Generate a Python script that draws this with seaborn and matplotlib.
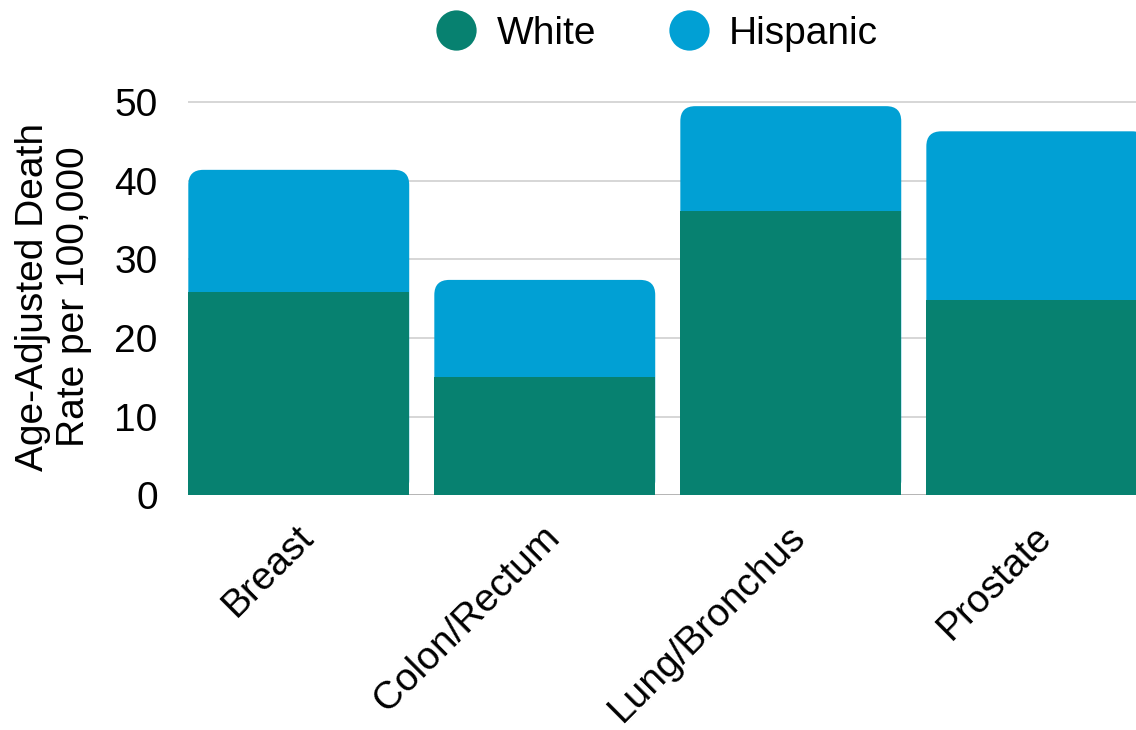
import matplotlib
matplotlib.use("Agg")
import matplotlib.pyplot as plt
from matplotlib.patches import FancyBboxPatch
from matplotlib.lines import Line2D
from matplotlib.transforms import ScaledTranslation
import seaborn as sns
import pandas as pd

# Cancer death rates by site
sites = ["Breast", "Colon/Rectum", "Lung/Bronchus", "Prostate"]
white_rate = [25.8, 15.0, 36.2, 24.8]
hispanic_rate = [15.6, 12.4, 13.3, 21.5]
series_names = ["White", "Hispanic"]
y_ticks = [0, 10, 20, 30, 40, 50]

WHITE_C = "#078170"
HISP_C = "#01a0d4"

sns.set_theme(style="white")
plt.rcParams["font.family"] = ["Liberation Sans", "DejaVu Sans"]
plt.rcParams["text.color"] = "black"

df = pd.DataFrame({"site": sites, "white": white_rate, "hispanic": hispanic_rate})
df["total"] = df["white"] + df["hispanic"]

W, H = 1136, 730
fig = plt.figure(figsize=(W / 100, H / 100), dpi=100)
ax = fig.add_axes([188.3 / W, (H - 495.3) / H, (W - 188.3) / W, 397 / H])

bar_w = 0.898
sns.barplot(data=df, x="site", y="total", color=HISP_C, saturation=1,
            width=bar_w, ax=ax, zorder=2)
n_top = len(ax.patches)
sns.barplot(data=df, x="site", y="white", color=WHITE_C, saturation=1,
            width=bar_w, ax=ax, zorder=4)

ax.set_xlim(-bar_w / 2, (W - 298.8) / 246)
ax.set_ylim(0, 50.5)
fig.canvas.draw()

# round the top corners of the stacked bars (radius in pixels)
radius_px = 15
p0 = ax.transData.transform((0, 0))
p1 = ax.transData.transform((1, 1))
x_per_px = 1 / (p1[0] - p0[0])
y_per_px = 1 / (p1[1] - p0[1])
aspect = y_per_px / x_per_px
for patch in ax.patches[:n_top]:
    patch.set_visible(False)
    rounded = FancyBboxPatch(
        (patch.get_x(), patch.get_y()), patch.get_width(), patch.get_height(),
        boxstyle=f"round,pad=0,rounding_size={radius_px * x_per_px}",
        mutation_aspect=aspect, facecolor=HISP_C, edgecolor="none",
        zorder=3, clip_on=True)
    ax.add_patch(rounded)
for patch in ax.patches[n_top:2 * n_top]:
    patch.set_edgecolor("none")

ax.set_yticks(y_ticks)
for yv in y_ticks[1:]:
    ax.axhline(yv, color="#d0d0d0", lw=1.2, zorder=1)
ax.axhline(0, color="#a8a8a8", lw=1.2, zorder=1)

for s in ax.spines.values():
    s.set_visible(False)
ax.grid(False)
ax.set_xlabel("")
ax.set_ylabel("Age-Adjusted Death\nRate per 100,000", fontsize=28,
              linespacing=1.2, labelpad=16, color="black")
ax.tick_params(axis="y", length=0, pad=22, labelsize=28, labelcolor="black")
ax.tick_params(axis="x", length=0, pad=10, labelsize=28, labelcolor="black")
shift = ScaledTranslation(9.5 / 100, -22.5 / 100, fig.dpi_scale_trans)
for lab in ax.get_xticklabels():
    lab.set_rotation(45)
    lab.set_ha("right")
    lab.set_va("center")
    lab.set_rotation_mode("anchor")
    lab.set_transform(lab.get_transform() + shift)

handles = [Line2D([], [], marker="o", linestyle="none", markersize=29,
                  markerfacecolor=c, markeredgecolor="none")
           for c in (WHITE_C, HISP_C)]
leg = fig.legend(handles, series_names, loc="center", ncol=2,
                 bbox_to_anchor=(657.5 / W, 1 - 34 / H), frameon=False,
                 fontsize=28, handletextpad=0.53, columnspacing=1.89,
                 handlelength=1.0)
for t in leg.get_texts():
    t.set_color("black")

fig.savefig("out.png", dpi=100)
